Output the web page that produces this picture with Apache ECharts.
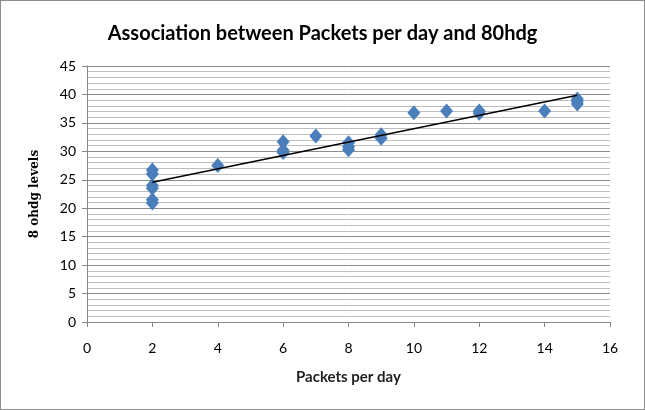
<!DOCTYPE html>
<html><head><meta charset="utf-8">
<script src="https://cdn.jsdelivr.net/npm/echarts@6/dist/echarts.min.js"></script>
<style>html,body{margin:0;padding:0;background:#fff}#c{width:645px;height:410px;box-sizing:border-box;border:1px solid #8c8c8c}</style>
</head><body><div id="c"></div>
<script>
const packets = [2,2,2,2,2,2,4,6,6,6,7,8,8,8,9,9,10,11,12,12,14,15,15,15];
const ohdg    = [26.7,26.0,24.0,23.5,21.5,20.9,27.5,31.7,30.2,29.8,32.7,31.5,30.8,30.3,32.9,32.3,36.8,37.1,37.1,36.7,37.1,39.2,38.8,38.3];
const xTicks = [0,2,4,6,8,10,12,14,16];
const yTicks = [0,5,10,15,20,25,30,35,40,45];

// linear trendline from data
const n = packets.length;
const mx = packets.reduce((a,b)=>a+b,0)/n, my = ohdg.reduce((a,b)=>a+b,0)/n;
let sxy=0,sxx=0; for(let i=0;i<n;i++){sxy+=(packets[i]-mx)*(ohdg[i]-my);sxx+=(packets[i]-mx)**2;}
const slope=sxy/sxx, icpt=my-slope*mx;
const xmin=Math.min(...packets), xmax=Math.max(...packets);
const trend=[[xmin,icpt+slope*xmin],[xmax,icpt+slope*xmax]];

const chart = echarts.init(document.getElementById('c'));
chart.setOption({
  animation:false,
  title:{text:'Association between Packets per day and 80hdg',left:'center',top:18,
    textStyle:{fontFamily:'Lato',fontWeight:'bold',fontSize:20,color:'#000'}},
  grid:{left:86,right:34,top:65,bottom:87},
  xAxis:{type:'value',min:0,max:16,interval:2,
    name:'Packets per day',nameLocation:'middle',nameGap:48,
    nameTextStyle:{fontFamily:'Lato',fontSize:15,fontWeight:'bold',color:'#222'},
    axisLine:{show:true,lineStyle:{color:'#868686'}},
    axisTick:{show:true,length:5,lineStyle:{color:'#868686'}},
    axisLabel:{fontFamily:'Lato',fontSize:14,color:'#000',margin:19},
    splitLine:{show:false}},
  yAxis:{type:'value',min:0,max:45,interval:5,
    name:'8 ohdg levels',nameLocation:'middle',nameGap:46,nameRotate:90,
    nameTextStyle:{fontFamily:'DejaVu Serif',fontWeight:'bold',fontSize:12,color:'#000'},
    axisLine:{show:true,lineStyle:{color:'#868686'}},
    axisTick:{show:true,length:5,lineStyle:{color:'#868686'}},
    axisLabel:{fontFamily:'Lato',fontSize:14,color:'#000',margin:11},
    splitLine:{show:true,lineStyle:{color:'#8c8c8c',width:1}},
    minorTick:{show:false,splitNumber:5},
    minorSplitLine:{show:true,lineStyle:{color:'#bdbdbd',width:1}}},
  series:[
    {type:'scatter',data:packets.map((x,i)=>[x,ohdg[i]]),symbol:'diamond',symbolSize:[13,15],
     itemStyle:{color:'#4a7ebb',opacity:1},z:3},
    {type:'line',data:trend,symbol:'none',lineStyle:{color:'#000',width:1.5},z:4}
  ]
});
</script></body></html>
